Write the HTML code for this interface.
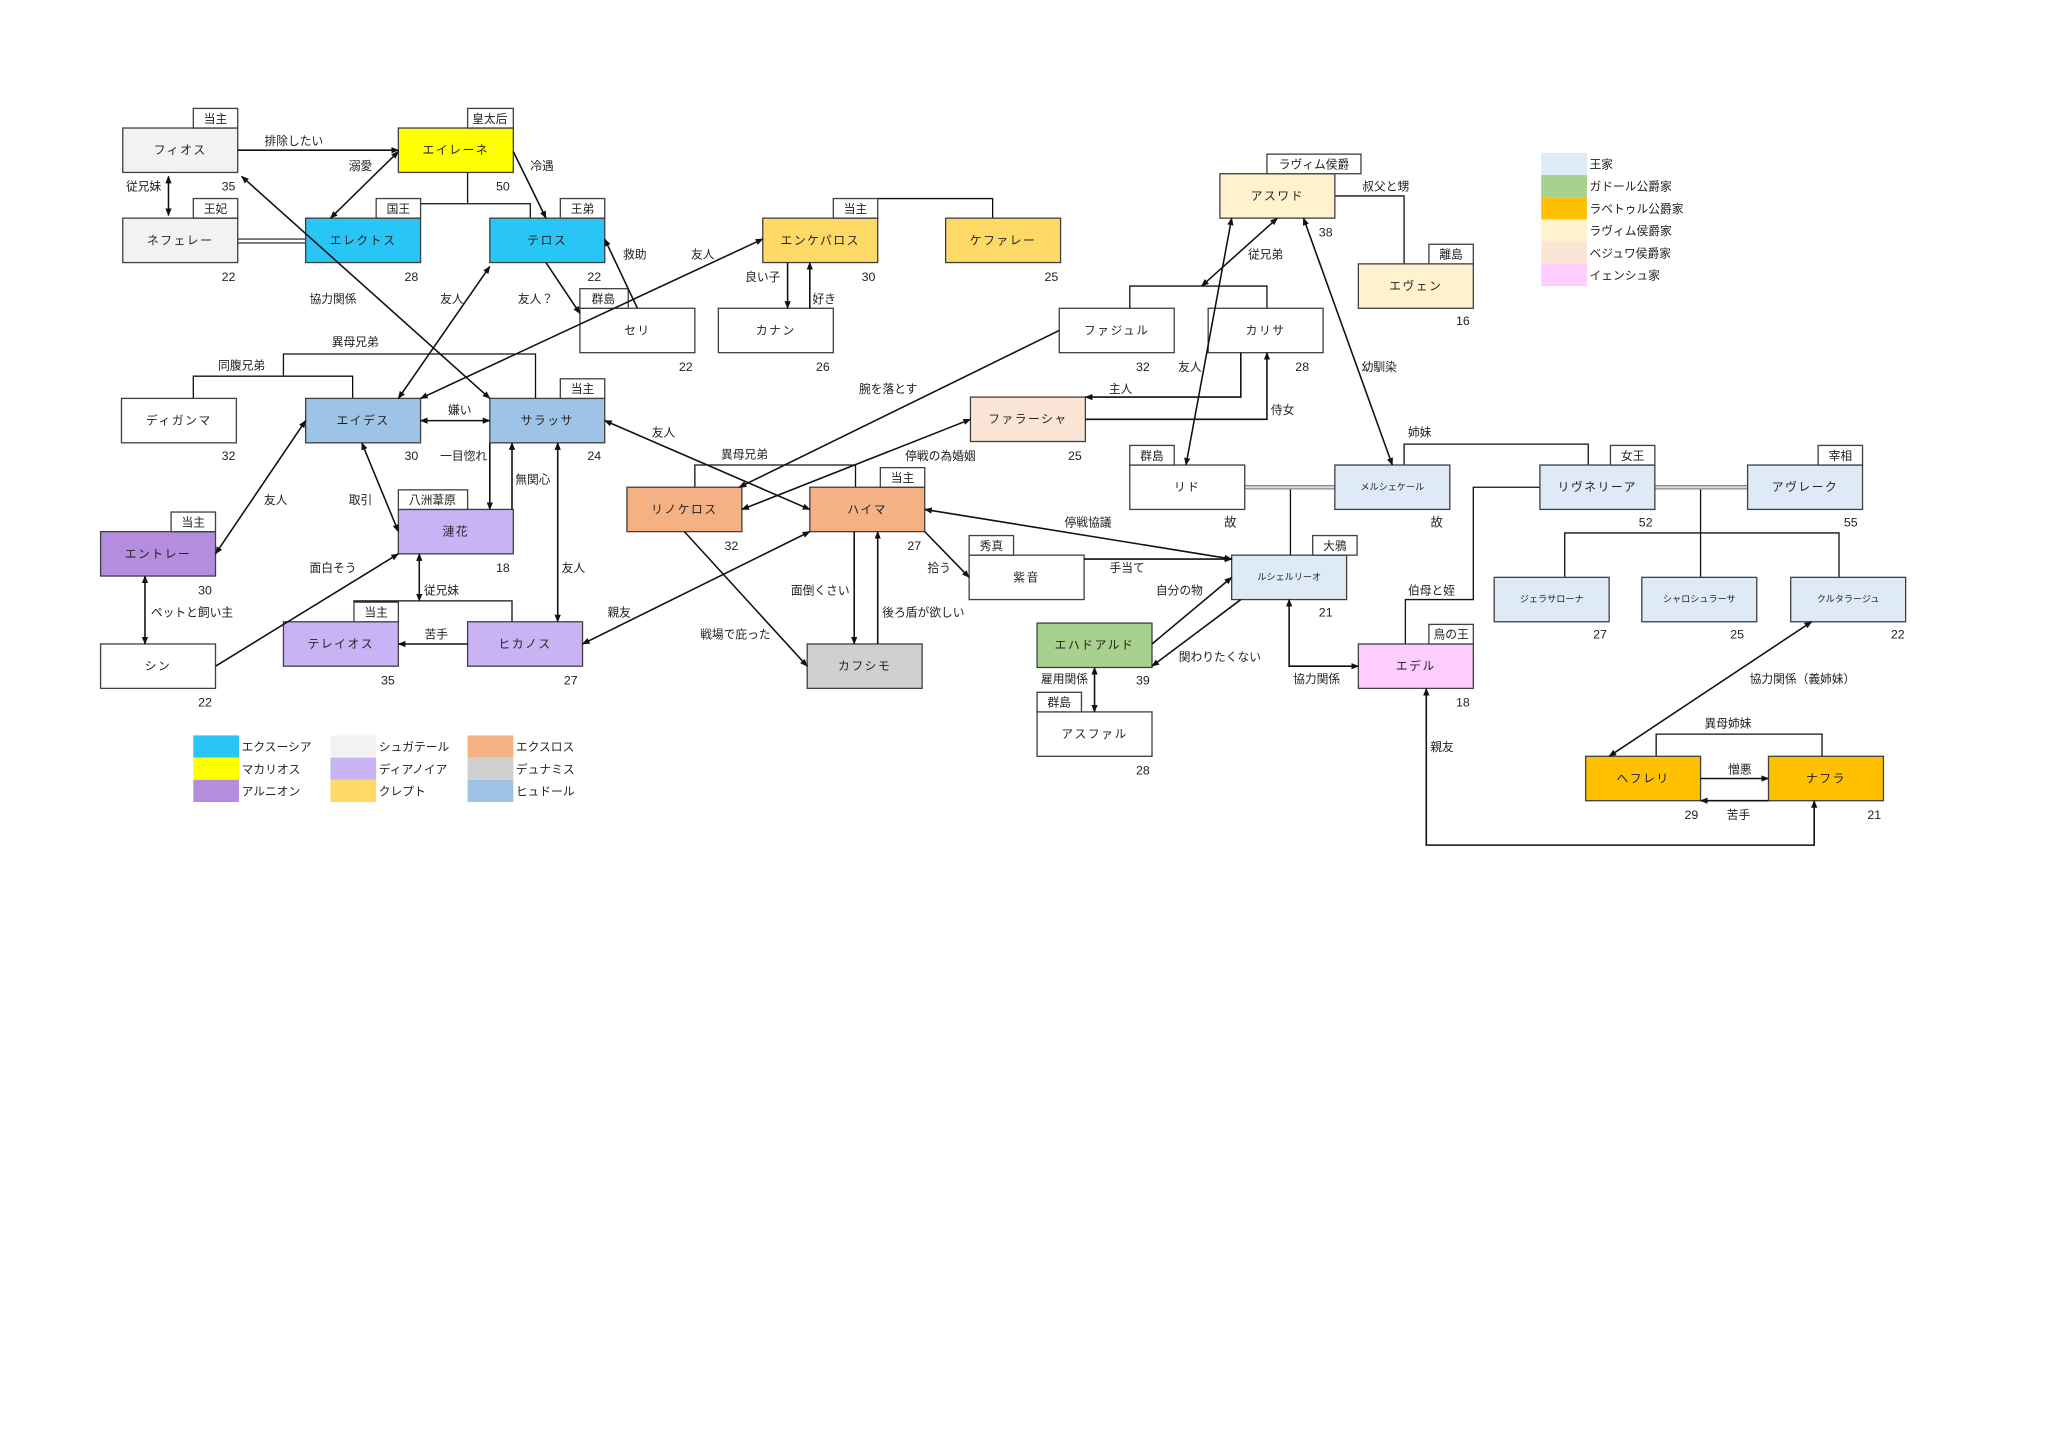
<!DOCTYPE html>
<html><head><meta charset="utf-8"><style>
html,body{margin:0;padding:0;background:#fff;}
svg{display:block;}
text{font-family:"Liberation Sans","Noto Sans CJK JP",sans-serif;fill:#222;}
.n{font-size:9px;text-anchor:middle;letter-spacing:1.2px;}
.s{font-size:7px;text-anchor:middle;}
.l{font-size:9px;text-anchor:middle;}
.a{font-size:9.5px;text-anchor:middle;}
.t{font-size:9px;text-anchor:middle;}
.g{font-size:9px;}
.b{stroke:#404040;stroke-width:1;}
.ln{stroke:#111;stroke-width:1;fill:none;}
.ar{stroke:#111;stroke-width:1.2;fill:none;marker-end:url(#m);}
.ar2{stroke:#111;stroke-width:1.2;fill:none;marker-end:url(#m);marker-start:url(#ms);}
</style></head><body>
<svg width="2048" height="1446" viewBox="0 0 1568 1107" preserveAspectRatio="none" xmlns="http://www.w3.org/2000/svg">
<defs>
<marker id="m" viewBox="0 0 10 10" refX="9" refY="5" markerWidth="5" markerHeight="5" orient="auto"><path d="M0,1 L10,5 L0,9 z" fill="#111"/></marker>
<marker id="ms" viewBox="0 0 10 10" refX="1" refY="5" markerWidth="5" markerHeight="5" orient="auto"><path d="M10,1 L0,5 L10,9 z" fill="#111"/></marker>
</defs>
<rect width="1568" height="1107" fill="#fff"/>

<!-- brackets / plain lines -->
<g class="ln">
<path d="M358,132 V156 M288,156 H406 V167"/>
<path d="M672,152 H760 V167"/>
<path d="M410,305 V271 H217 V288 M148,305 V288 H270 V305"/>
<path d="M532,373 V356 H655 V373"/>
<path d="M271,461 V460 H392 V476"/>
<path d="M865,236 V219 H970 V236"/>
<path d="M1022,150 H1075 V202"/>
<path d="M988,373 V425"/>
<path d="M1075,356 V340 H1216 V356"/>
<path d="M1302,373 V408 M1198,442 V408 H1408 V442 M1302,408 V442"/>
<path d="M1179,373 H1128 V459 H1076 V493"/>
<path d="M1268,579 V562 H1395 V579"/>
</g>
<g stroke="#444" stroke-width="1">
<path d="M182,183 H234 M182,186 H234"/>
</g>
<g stroke="#888" stroke-width="3.5"><path d="M953,373 H1022 M1267,373 H1338"/></g>
<g stroke="#ddd" stroke-width="1.5"><path d="M953,373 H1022 M1267,373 H1338"/></g>

<!-- boxes -->
<g class="b">
<rect x="94" y="98" width="88" height="34" fill="#f2f2f2"/>
<rect x="94" y="167" width="88" height="34" fill="#f2f2f2"/>
<rect x="305" y="98" width="88" height="34" fill="#ffff00"/>
<rect x="234" y="167" width="88" height="34" fill="#29c5f6"/>
<rect x="375" y="167" width="88" height="34" fill="#29c5f6"/>
<rect x="584" y="167" width="88" height="34" fill="#ffd966"/>
<rect x="724" y="167" width="88" height="34" fill="#ffd966"/>
<rect x="444" y="236" width="88" height="34" fill="#fff"/>
<rect x="550" y="236" width="88" height="34" fill="#fff"/>
<rect x="93" y="305" width="88" height="34" fill="#fff"/>
<rect x="234" y="305" width="88" height="34" fill="#9dc3e6"/>
<rect x="375" y="305" width="88" height="34" fill="#9dc3e6"/>
<rect x="305" y="390" width="88" height="34" fill="#c9b3f5"/>
<rect x="77" y="407" width="88" height="34" fill="#b48ddf"/>
<rect x="77" y="493" width="88" height="34" fill="#fff"/>
<rect x="217" y="476" width="88" height="34" fill="#c9b3f5"/>
<rect x="358" y="476" width="88" height="34" fill="#c9b3f5"/>
<rect x="480" y="373" width="88" height="34" fill="#f4b183"/>
<rect x="620" y="373" width="88" height="34" fill="#f4b183"/>
<rect x="618" y="493" width="88" height="34" fill="#d0d0d0"/>
<rect x="811" y="236" width="88" height="34" fill="#fff"/>
<rect x="925" y="236" width="88" height="34" fill="#fff"/>
<rect x="743" y="304" width="88" height="34" fill="#fbe5d6"/>
<rect x="934" y="133" width="88" height="34" fill="#fff2cc"/>
<rect x="1040" y="202" width="88" height="34" fill="#fff2cc"/>
<rect x="865" y="356" width="88" height="34" fill="#fff"/>
<rect x="1022" y="356" width="88" height="34" fill="#deebf7"/>
<rect x="1179" y="356" width="88" height="34" fill="#deebf7"/>
<rect x="1338" y="356" width="88" height="34" fill="#deebf7"/>
<rect x="742" y="425" width="88" height="34" fill="#fff"/>
<rect x="943" y="425" width="88" height="34" fill="#deebf7"/>
<rect x="794" y="477" width="88" height="34" fill="#a9d18e"/>
<rect x="794" y="545" width="88" height="34" fill="#fff"/>
<rect x="1040" y="493" width="88" height="34" fill="#ffccff"/>
<rect x="1144" y="442" width="88" height="34" fill="#deebf7"/>
<rect x="1257" y="442" width="88" height="34" fill="#deebf7"/>
<rect x="1371" y="442" width="88" height="34" fill="#deebf7"/>
<rect x="1214" y="579" width="88" height="34" fill="#ffc000"/>
<rect x="1354" y="579" width="88" height="34" fill="#ffc000"/>
<rect x="148" y="83" width="34" height="15" fill="#fff"/>
<rect x="148" y="152" width="34" height="15" fill="#fff"/>
<rect x="358" y="83" width="35" height="15" fill="#fff"/>
<rect x="288" y="152" width="34" height="15" fill="#fff"/>
<rect x="429" y="152" width="34" height="15" fill="#fff"/>
<rect x="638" y="152" width="34" height="15" fill="#fff"/>
<rect x="444" y="221" width="37" height="15" fill="#fff"/>
<rect x="429" y="290" width="34" height="15" fill="#fff"/>
<rect x="305" y="375" width="53" height="15" fill="#fff"/>
<rect x="131" y="392" width="34" height="15" fill="#fff"/>
<rect x="271" y="461" width="34" height="15" fill="#fff"/>
<rect x="674" y="358" width="34" height="15" fill="#fff"/>
<rect x="970" y="118" width="72" height="15" fill="#fff"/>
<rect x="1094" y="187" width="34" height="15" fill="#fff"/>
<rect x="865" y="341" width="34" height="15" fill="#fff"/>
<rect x="1233" y="341" width="34" height="15" fill="#fff"/>
<rect x="1392" y="341" width="34" height="15" fill="#fff"/>
<rect x="742" y="410" width="34" height="15" fill="#fff"/>
<rect x="1005" y="410" width="34" height="15" fill="#fff"/>
<rect x="794" y="530" width="34" height="15" fill="#fff"/>
<rect x="1094" y="478" width="34" height="15" fill="#fff"/>
</g>

<!-- arrows -->
<path class="ar" d="M182,115 H305"/>
<path class="ar2" d="M305,116 L253,167"/>
<path class="ar" d="M393,116 L418,167"/>
<path class="ar2" d="M129,135 V165"/>
<path class="ar2" d="M185,135 L375,305"/>
<path class="ar2" d="M305,305 L375,204"/>
<path class="ar" d="M418,201 L444,240"/>
<path class="ar" d="M488,236 L463,183"/>
<path class="ar2" d="M322,305 L584,183"/>
<path class="ar" d="M603,201 V236"/>
<path class="ar" d="M620,236 V201"/>
<path class="ar2" d="M322,322 H375"/>
<path class="ar" d="M375,339 V390"/>
<path class="ar" d="M392,390 V339"/>
<path class="ar2" d="M427,339 V476"/>
<path class="ar2" d="M277,339 L305,407"/>
<path class="ar2" d="M234,322 L165,424"/>
<path class="ar2" d="M111,441 V493"/>
<path class="ar" d="M165,510 L305,424"/>
<path class="ar2" d="M321,424 V460"/>
<path class="ar" d="M358,493 H305"/>
<path class="ar2" d="M620,407 L446,493"/>
<path class="ar2" d="M463,322 L620,390"/>
<path class="ar" d="M811,253 L566,373"/>
<path class="ar2" d="M743,321 L568,390"/>
<path class="ar" d="M524,407 L618,510"/>
<path class="ar" d="M654,407 V493"/>
<path class="ar" d="M672,493 V407"/>
<path class="ar" d="M708,407 L742,442"/>
<path class="ar2" d="M708,390 L943,428"/>
<path class="ar" d="M830,428 H943"/>
<path class="ar" d="M882,493 L943,442"/>
<path class="ar" d="M950,459 L882,510"/>
<path class="ar2" d="M838,511 V545"/>
<path class="ar2" d="M987,459 V510 H1040"/>
<path class="ar2" d="M1092,527 V647 H1389 V613"/>
<path class="ar2" d="M1387,476 L1232,579"/>
<path class="ar" d="M1302,596 H1354"/>
<path class="ar" d="M1354,613 H1302"/>
<path class="ar2" d="M978,167 L920,219"/>
<path class="ar2" d="M943,167 L908,356"/>
<path class="ar2" d="M998,167 L1066,356"/>
<path class="ar" d="M950,270 V304 H831"/>
<path class="ar" d="M831,321 H970 V270"/>

<!-- tag texts -->
<g class="t">
<text x="165" y="94">当主</text><text x="165" y="163">王妃</text>
<text x="375" y="94">皇太后</text><text x="305" y="163">国王</text>
<text x="446" y="163">王弟</text><text x="655" y="163">当主</text>
<text x="462" y="232">群島</text><text x="446" y="301">当主</text>
<text x="331" y="386">八洲葦原</text><text x="148" y="403">当主</text>
<text x="288" y="472">当主</text><text x="691" y="369">当主</text>
<text x="1006" y="129">ラヴィム侯爵</text><text x="1111" y="198">離島</text>
<text x="882" y="352">群島</text><text x="1250" y="352">女王</text>
<text x="1409" y="352">宰相</text><text x="759" y="421">秀真</text>
<text x="1022" y="421">大鴉</text><text x="811" y="541">群島</text>
<text x="1111" y="489">鳥の王</text>
</g>

<g class="n">
<text x="138" y="118">フィオス</text><text x="138" y="187">ネフェレー</text>
<text x="349" y="118">エイレーネ</text><text x="278" y="187">エレクトス</text>
<text x="419" y="187">テロス</text><text x="628" y="187">エンケパロス</text>
<text x="768" y="187">ケファレー</text><text x="488" y="256">セリ</text>
<text x="594" y="256">カナン</text><text x="137" y="325">ディガンマ</text>
<text x="278" y="325">エイデス</text><text x="419" y="325">サラッサ</text>
<text x="349" y="410">漣花</text><text x="121" y="427">エントレー</text>
<text x="121" y="513">シン</text><text x="261" y="496">テレイオス</text>
<text x="402" y="496">ヒカノス</text><text x="524" y="393">リノケロス</text>
<text x="664" y="393">ハイマ</text><text x="662" y="513">カフシモ</text>
<text x="855" y="256">ファジュル</text><text x="969" y="256">カリサ</text>
<text x="787" y="324">ファラーシャ</text><text x="978" y="153">アスワド</text>
<text x="1084" y="222">エヴェン</text><text x="909" y="376">リド</text>
<text x="1223" y="376">リヴネリーア</text><text x="1382" y="376">アヴレーク</text>
<text x="786" y="445">紫音</text><text x="838" y="497">エハドアルド</text>
<text x="838" y="565">アスファル</text><text x="1084" y="513">エデル</text>
<text x="1258" y="599">ヘフレリ</text><text x="1398" y="599">ナフラ</text>
</g>
<g class="s">
<text x="1066" y="375">メルシェケール</text><text x="987" y="444">ルシェルリーオ</text>
<text x="1188" y="461">ジェラサローナ</text><text x="1301" y="461">シャロシュラーサ</text>
<text x="1415" y="461">クルタラージュ</text>
</g>

<g class="a">
<text x="175" y="146">35</text><text x="175" y="215">22</text>
<text x="385" y="146">50</text><text x="315" y="215">28</text>
<text x="455" y="215">22</text><text x="665" y="215">30</text>
<text x="805" y="215">25</text><text x="525" y="284">22</text>
<text x="630" y="284">26</text><text x="175" y="352">32</text>
<text x="315" y="352">30</text><text x="455" y="352">24</text>
<text x="385" y="438">18</text><text x="157" y="455">30</text>
<text x="157" y="541">22</text><text x="297" y="524">35</text>
<text x="437" y="524">27</text><text x="560" y="421">32</text>
<text x="700" y="421">27</text><text x="875" y="284">32</text>
<text x="997" y="284">28</text><text x="823" y="352">25</text>
<text x="1015" y="181">38</text><text x="1120" y="249">16</text>
<text x="942" y="403">故</text><text x="1100" y="403">故</text>
<text x="1260" y="403">52</text><text x="1417" y="403">55</text>
<text x="1015" y="472">21</text><text x="875" y="524">39</text>
<text x="875" y="593">28</text><text x="1120" y="541">18</text>
<text x="1225" y="489">27</text><text x="1330" y="489">25</text>
<text x="1453" y="489">22</text><text x="1295" y="627">29</text>
<text x="1435" y="627">21</text>
</g>

<g class="l">
<text x="225" y="111">排除したい</text><text x="276" y="130">溺愛</text>
<text x="415" y="130">冷遇</text><text x="110" y="146">従兄妹</text>
<text x="255" y="232">協力関係</text><text x="346" y="232">友人</text>
<text x="410" y="232">友人？</text><text x="486" y="198">救助</text>
<text x="538" y="198">友人</text><text x="584" y="215">良い子</text>
<text x="631" y="232">好き</text><text x="272" y="265">異母兄弟</text>
<text x="185" y="283">同腹兄弟</text><text x="352" y="317">嫌い</text>
<text x="355" y="352">一目惚れ</text><text x="408" y="370">無関心</text>
<text x="439" y="438">友人</text><text x="276" y="386">取引</text>
<text x="211" y="386">友人</text><text x="147" y="472">ペットと飼い主</text>
<text x="255" y="438">面白そう</text><text x="338" y="455">従兄妹</text>
<text x="334" y="489">苦手</text><text x="474" y="472">親友</text>
<text x="508" y="334">友人</text><text x="680" y="301">腕を落とす</text>
<text x="720" y="352">停戦の為婚姻</text><text x="570" y="351">異母兄弟</text>
<text x="563" y="489">戦場で庇った</text><text x="628" y="455">面倒くさい</text>
<text x="707" y="472">後ろ盾が欲しい</text><text x="719" y="438">拾う</text>
<text x="833" y="403">停戦協議</text><text x="863" y="438">手当て</text>
<text x="903" y="455">自分の物</text><text x="934" y="506">関わりたくない</text>
<text x="815" y="523">雇用関係</text><text x="1008" y="523">協力関係</text>
<text x="1087" y="334">姉妹</text><text x="1096" y="455">伯母と姪</text>
<text x="1104" y="575">親友</text><text x="1380" y="523">協力関係（義姉妹）</text>
<text x="1323" y="557">異母姉妹</text><text x="1332" y="592">憎悪</text>
<text x="1331" y="627">苦手</text><text x="969" y="198">従兄弟</text>
<text x="911" y="284">友人</text><text x="1056" y="284">幼馴染</text>
<text x="1061" y="146">叔父と甥</text><text x="858" y="301">主人</text>
<text x="982" y="317">侍女</text>
</g>

<rect x="148" y="563" width="35" height="17" fill="#29c5f6"/>
<rect x="148" y="580" width="35" height="17" fill="#ffff00"/>
<rect x="148" y="597" width="35" height="17" fill="#b48ddf"/>
<rect x="253" y="563" width="35" height="17" fill="#f2f2f2"/>
<rect x="253" y="580" width="35" height="17" fill="#c9b3f5"/>
<rect x="253" y="597" width="35" height="17" fill="#ffd966"/>
<rect x="358" y="563" width="35" height="17" fill="#f4b183"/>
<rect x="358" y="580" width="35" height="17" fill="#d0d0d0"/>
<rect x="358" y="597" width="35" height="17" fill="#9dc3e6"/>
<g class="g">
<text x="185" y="575">エクスーシア</text><text x="185" y="592">マカリオス</text><text x="185" y="609">アルニオン</text>
<text x="290" y="575">シュガテール</text><text x="290" y="592">ディアノイア</text><text x="290" y="609">クレプト</text>
<text x="395" y="575">エクスロス</text><text x="395" y="592">デュナミス</text><text x="395" y="609">ヒュドール</text>
</g>
<rect x="1180" y="117" width="35" height="17" fill="#deebf7"/>
<rect x="1180" y="134" width="35" height="17" fill="#a9d18e"/>
<rect x="1180" y="151" width="35" height="17" fill="#ffc000"/>
<rect x="1180" y="168" width="35" height="17" fill="#fff2cc"/>
<rect x="1180" y="185" width="35" height="17" fill="#fbe5d6"/>
<rect x="1180" y="202" width="35" height="17" fill="#ffccff"/>
<g class="g">
<text x="1217" y="129">王家</text><text x="1217" y="146">ガドール公爵家</text>
<text x="1217" y="163">ラベトゥル公爵家</text><text x="1217" y="180">ラヴィム侯爵家</text>
<text x="1217" y="197">ベジュワ侯爵家</text><text x="1217" y="214">イェンシュ家</text>
</g>
</svg>
</body></html>
